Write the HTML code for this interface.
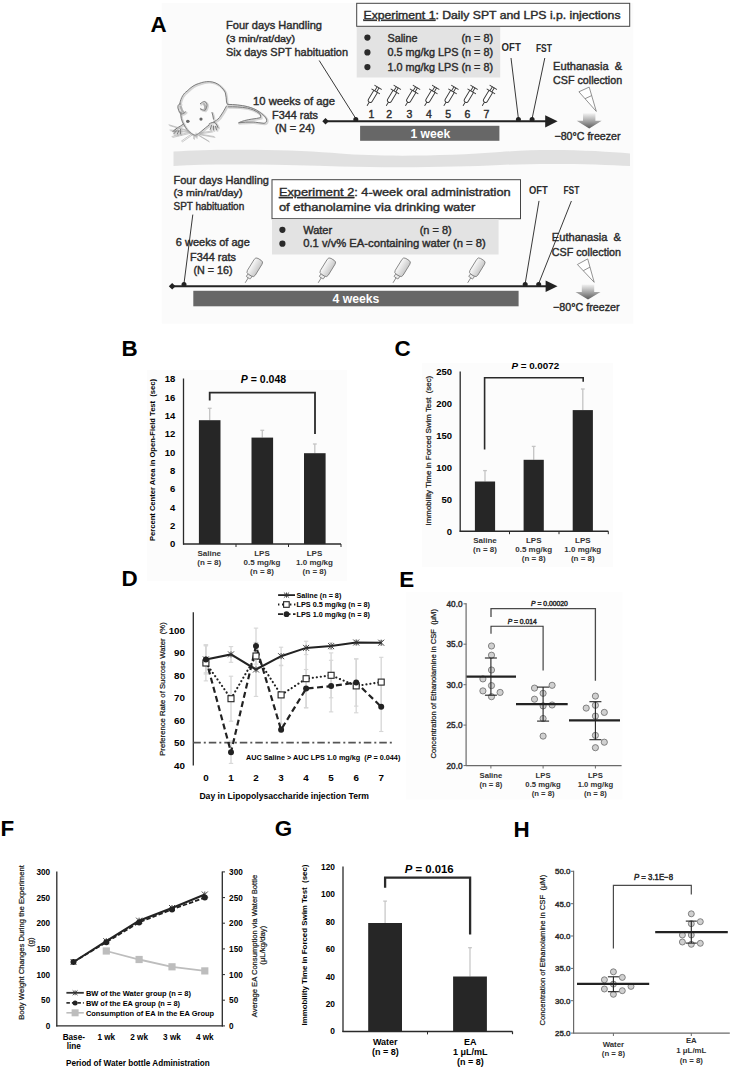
<!DOCTYPE html>
<html><head><meta charset="utf-8"><title>Figure</title>
<style>
html,body{margin:0;padding:0;background:#fff;}
svg{display:block;}
text{font-family:'Liberation Sans', Arial, sans-serif;}
</style></head>
<body>
<svg width="748" height="1088" viewBox="0 0 748 1088">
<defs>
<linearGradient id="fz" x1="0" y1="0" x2="0" y2="1">
<stop offset="0" stop-color="#f2f2f2"/><stop offset="0.55" stop-color="#a0a0a0"/><stop offset="1" stop-color="#5a5a5a"/>
</linearGradient>
<linearGradient id="bt" x1="0" y1="0" x2="0" y2="1">
<stop offset="0" stop-color="#fafafa"/><stop offset="1" stop-color="#c8c8c8"/>
</linearGradient>
</defs>
<rect width="748" height="1088" fill="#fff"/>
<g id="panelA">
<rect x="161.8" y="3.0" width="471.5" height="320.7" fill="#fbfbfb"/>
<text x="150.6" y="31.8" font-size="22.4" font-weight="bold">A</text>
<path d="M173.5 151.5 C 220 148, 300 150, 340 153.5 S 450 156, 500 152 S 600 151, 630 153.5 L 630 166 C 600 164, 540 163, 500 165 S 400 168, 340 166.5 S 220 163, 173.5 166 Z" fill="#e1e1e1"/>
<text x="226.0" y="28.7" font-size="11" fill="#2b2b2b" textLength="96" lengthAdjust="spacingAndGlyphs" style="stroke:#2b2b2b;stroke-width:0.4">Four days Handling</text>
<text x="226.0" y="41.8" font-size="9.5" fill="#2b2b2b" textLength="69" lengthAdjust="spacingAndGlyphs" style="stroke:#2b2b2b;stroke-width:0.4">(3 min/rat/day)</text>
<text x="226.0" y="55.5" font-size="11" fill="#2b2b2b" textLength="122" lengthAdjust="spacingAndGlyphs" style="stroke:#2b2b2b;stroke-width:0.4">Six days SPT habituation</text>
<rect x="356.7" y="3.3" width="273.0" height="23.0" fill="#fff" stroke="#444" stroke-width="1"/>
<text x="363.5" y="18.8" font-size="11.2" fill="#2b2b2b" textLength="257" lengthAdjust="spacingAndGlyphs" style="stroke:#2b2b2b;stroke-width:0.4"><tspan text-decoration="underline">Experiment 1</tspan>: Daily SPT and LPS i.p. injections</text>
<rect x="356.7" y="27.0" width="143.5" height="50.5" fill="#e3e3e3"/>
<circle cx="367.4" cy="37.6" r="3.1" fill="#2a2a2a"/>
<circle cx="367.4" cy="52.4" r="3.1" fill="#2a2a2a"/>
<circle cx="367.4" cy="67.1" r="3.1" fill="#2a2a2a"/>
<text x="387.5" y="41.7" font-size="10.8" fill="#2b2b2b" textLength="30" lengthAdjust="spacingAndGlyphs" style="stroke:#2b2b2b;stroke-width:0.4">Saline</text>
<text x="493.0" y="41.7" font-size="10.8" text-anchor="end" fill="#2b2b2b" style="stroke:#2b2b2b;stroke-width:0.4">(n = 8)</text>
<text x="387.5" y="56.4" font-size="10.8" fill="#2b2b2b" textLength="105.5" lengthAdjust="spacingAndGlyphs" style="stroke:#2b2b2b;stroke-width:0.4">0.5 mg/kg LPS (n = 8)</text>
<text x="387.5" y="71.1" font-size="10.8" fill="#2b2b2b" textLength="105.5" lengthAdjust="spacingAndGlyphs" style="stroke:#2b2b2b;stroke-width:0.4">1.0 mg/kg LPS (n = 8)</text>
<text x="501.6" y="50.8" font-size="10.4" font-weight="bold" fill="#2b2b2b" textLength="19.2" lengthAdjust="spacingAndGlyphs">OFT</text>
<text x="535.9" y="51.8" font-size="10.4" font-weight="bold" fill="#2b2b2b" textLength="16" lengthAdjust="spacingAndGlyphs">FST</text>
<text x="553.1" y="69.7" font-size="10.8" fill="#2b2b2b" textLength="69" lengthAdjust="spacingAndGlyphs" style="stroke:#2b2b2b;stroke-width:0.4">Euthanasia &#160;&amp;</text>
<text x="553.1" y="84.3" font-size="10.8" fill="#2b2b2b" textLength="69" lengthAdjust="spacingAndGlyphs" style="stroke:#2b2b2b;stroke-width:0.4">CSF collection</text>
<text x="294.0" y="104.5" font-size="10.8" text-anchor="middle" fill="#2b2b2b" textLength="82" lengthAdjust="spacingAndGlyphs" style="stroke:#2b2b2b;stroke-width:0.4">10 weeks of age</text>
<text x="295.0" y="118.5" font-size="10.8" text-anchor="middle" fill="#2b2b2b" textLength="46" lengthAdjust="spacingAndGlyphs" style="stroke:#2b2b2b;stroke-width:0.4">F344 rats</text>
<text x="295.0" y="132.0" font-size="10.8" text-anchor="middle" fill="#2b2b2b" textLength="40" lengthAdjust="spacingAndGlyphs" style="stroke:#2b2b2b;stroke-width:0.4">(N = 24)</text>
<line x1="326.0" y1="121.3" x2="548.0" y2="121.3" stroke="#222" stroke-width="2"/>
<path d="M322.3 121.3 L325.5 118 L328.8 121.3 L325.5 124.6 Z" fill="#222"/>
<path d="M545.2 115.2 L557.6 121.3 L545.2 127.4 Z" fill="#222"/>
<line x1="319.2" y1="60.5" x2="355.8" y2="118.5" stroke="#222" stroke-width="0.9"/>
<circle cx="355.8" cy="119.6" r="2.5" fill="#222"/>
<line x1="511.0" y1="58.0" x2="518.4" y2="118.5" stroke="#222" stroke-width="0.9"/>
<circle cx="518.4" cy="119.6" r="2.5" fill="#222"/>
<line x1="544.8" y1="58.0" x2="532.1" y2="118.5" stroke="#222" stroke-width="0.9"/>
<circle cx="532.1" cy="119.6" r="2.5" fill="#222"/>
<g transform="translate(367.2 105.5) rotate(-59)" stroke="#383838" fill="none" stroke-width="0.9" stroke-linecap="round"><line x1="0" y1="0" x2="4.2" y2="0"/><path d="M16.5 -2.1 L6 -2.1 Q4 -2.1 4 0 Q4 2.1 6 2.1 L16.5 2.1" fill="#fff"/><line x1="16.5" y1="-4.5" x2="16.5" y2="4.5"/><line x1="16.5" y1="-1.1" x2="21" y2="-1.1"/><line x1="16.5" y1="1.1" x2="21" y2="1.1"/><line x1="21.2" y1="-3.9" x2="21.2" y2="3.9"/></g>
<g transform="translate(386.4 105.5) rotate(-59)" stroke="#383838" fill="none" stroke-width="0.9" stroke-linecap="round"><line x1="0" y1="0" x2="4.2" y2="0"/><path d="M16.5 -2.1 L6 -2.1 Q4 -2.1 4 0 Q4 2.1 6 2.1 L16.5 2.1" fill="#fff"/><line x1="16.5" y1="-4.5" x2="16.5" y2="4.5"/><line x1="16.5" y1="-1.1" x2="21" y2="-1.1"/><line x1="16.5" y1="1.1" x2="21" y2="1.1"/><line x1="21.2" y1="-3.9" x2="21.2" y2="3.9"/></g>
<g transform="translate(405.6 105.5) rotate(-59)" stroke="#383838" fill="none" stroke-width="0.9" stroke-linecap="round"><line x1="0" y1="0" x2="4.2" y2="0"/><path d="M16.5 -2.1 L6 -2.1 Q4 -2.1 4 0 Q4 2.1 6 2.1 L16.5 2.1" fill="#fff"/><line x1="16.5" y1="-4.5" x2="16.5" y2="4.5"/><line x1="16.5" y1="-1.1" x2="21" y2="-1.1"/><line x1="16.5" y1="1.1" x2="21" y2="1.1"/><line x1="21.2" y1="-3.9" x2="21.2" y2="3.9"/></g>
<g transform="translate(424.8 105.5) rotate(-59)" stroke="#383838" fill="none" stroke-width="0.9" stroke-linecap="round"><line x1="0" y1="0" x2="4.2" y2="0"/><path d="M16.5 -2.1 L6 -2.1 Q4 -2.1 4 0 Q4 2.1 6 2.1 L16.5 2.1" fill="#fff"/><line x1="16.5" y1="-4.5" x2="16.5" y2="4.5"/><line x1="16.5" y1="-1.1" x2="21" y2="-1.1"/><line x1="16.5" y1="1.1" x2="21" y2="1.1"/><line x1="21.2" y1="-3.9" x2="21.2" y2="3.9"/></g>
<g transform="translate(444.0 105.5) rotate(-59)" stroke="#383838" fill="none" stroke-width="0.9" stroke-linecap="round"><line x1="0" y1="0" x2="4.2" y2="0"/><path d="M16.5 -2.1 L6 -2.1 Q4 -2.1 4 0 Q4 2.1 6 2.1 L16.5 2.1" fill="#fff"/><line x1="16.5" y1="-4.5" x2="16.5" y2="4.5"/><line x1="16.5" y1="-1.1" x2="21" y2="-1.1"/><line x1="16.5" y1="1.1" x2="21" y2="1.1"/><line x1="21.2" y1="-3.9" x2="21.2" y2="3.9"/></g>
<g transform="translate(463.2 105.5) rotate(-59)" stroke="#383838" fill="none" stroke-width="0.9" stroke-linecap="round"><line x1="0" y1="0" x2="4.2" y2="0"/><path d="M16.5 -2.1 L6 -2.1 Q4 -2.1 4 0 Q4 2.1 6 2.1 L16.5 2.1" fill="#fff"/><line x1="16.5" y1="-4.5" x2="16.5" y2="4.5"/><line x1="16.5" y1="-1.1" x2="21" y2="-1.1"/><line x1="16.5" y1="1.1" x2="21" y2="1.1"/><line x1="21.2" y1="-3.9" x2="21.2" y2="3.9"/></g>
<g transform="translate(482.4 105.5) rotate(-59)" stroke="#383838" fill="none" stroke-width="0.9" stroke-linecap="round"><line x1="0" y1="0" x2="4.2" y2="0"/><path d="M16.5 -2.1 L6 -2.1 Q4 -2.1 4 0 Q4 2.1 6 2.1 L16.5 2.1" fill="#fff"/><line x1="16.5" y1="-4.5" x2="16.5" y2="4.5"/><line x1="16.5" y1="-1.1" x2="21" y2="-1.1"/><line x1="16.5" y1="1.1" x2="21" y2="1.1"/><line x1="21.2" y1="-3.9" x2="21.2" y2="3.9"/></g>
<text x="371.4" y="117.5" font-size="10.5" text-anchor="middle" fill="#2b2b2b" style="stroke:#2b2b2b;stroke-width:0.4">1</text>
<text x="389.1" y="117.5" font-size="10.5" text-anchor="middle" fill="#2b2b2b" style="stroke:#2b2b2b;stroke-width:0.4">2</text>
<text x="409.5" y="117.5" font-size="10.5" text-anchor="middle" fill="#2b2b2b" style="stroke:#2b2b2b;stroke-width:0.4">3</text>
<text x="428.8" y="117.5" font-size="10.5" text-anchor="middle" fill="#2b2b2b" style="stroke:#2b2b2b;stroke-width:0.4">4</text>
<text x="448.2" y="117.5" font-size="10.5" text-anchor="middle" fill="#2b2b2b" style="stroke:#2b2b2b;stroke-width:0.4">5</text>
<text x="467.3" y="117.5" font-size="10.5" text-anchor="middle" fill="#2b2b2b" style="stroke:#2b2b2b;stroke-width:0.4">6</text>
<text x="486.3" y="117.5" font-size="10.5" text-anchor="middle" fill="#2b2b2b" style="stroke:#2b2b2b;stroke-width:0.4">7</text>
<rect x="360.1" y="125.8" width="139.3" height="15.0" fill="#676767"/>
<text x="430.3" y="137.9" font-size="12" text-anchor="middle" font-weight="bold" fill="#fff" textLength="39.8" lengthAdjust="spacingAndGlyphs">1 week</text>
<path d="M578.9 91.8 L589.2 87.1 L596.3 111.4 Z" fill="#fff" stroke="#777" stroke-width="0.8"/>
<line x1="585.0" y1="98.7" x2="591.7" y2="95.6" stroke="#777" stroke-width="0.8"/>
<path d="M583.0 113.3 L595.4 113.3 L595.4 120.8 L601.7 120.8 L589.2 128.6 L576.7 120.8 L583.0 120.8 Z" fill="url(#fz)"/>
<text x="587.5" y="140.0" font-size="10.8" text-anchor="middle" fill="#2b2b2b" textLength="66" lengthAdjust="spacingAndGlyphs" style="stroke:#2b2b2b;stroke-width:0.4">−80°C freezer</text>
<g fill="none" stroke="#d4d4d4" stroke-width="2.2" stroke-linecap="round" stroke-linejoin="round" transform="translate(0.9 0.9)"><path d="M179.7 104 C 181 97, 184 93, 187 91.2 C 191 87, 195 84.5, 198.8 83.5 C 203 82, 206 81.5, 209.1 81.6 C 214 81.8, 217 83.5, 219.4 85.3 C 222.5 88, 224.5 90.5, 225.3 92.6 C 226.2 96, 226.3 99, 226.5 102 L 227.5 104.4 C 234 104.5, 241 105, 247.4 106.6 C 252 107.8, 256 109.5, 259.1 111.8 C 262.5 114, 265.5 116.5, 266.5 119.1 C 267 121.5, 266 123, 264 123.3 C 260 123, 256 122.2, 253.2 122 C 248 121.8, 243 122.4, 238.5 122.8 C 242 121, 247 119.8, 251.8 119.1 C 255 118.6, 258 118.4, 260.6 117.6 C 261 115.5, 260 114.2, 259.1 113.2 C 255.5 110.5, 251.5 109, 247.4 108.1 C 241 107, 234 106.6, 228.2 106.8"/><path d="M226.5 106 C 224.5 110, 222 114, 219.4 117.6 C 217.5 119.8, 215.5 121, 213.5 122"/><path d="M212 112.5 C 212.8 115, 213.3 117, 213.5 119.1"/><path d="M181 112 C 180.2 116, 181.6 121, 184.1 125 C 186 128.5, 188 131, 190 132.4 C 192 134, 193.5 135, 195.1 135.3 C 197.5 134.5, 199.5 133, 201.8 130.9 C 204.5 128.5, 207 126.5, 209.1 125"/><path d="M180.5 104 C 178.5 103.5, 177.2 106, 178.2 108.8 C 178.8 111.3, 180 113.2, 181.5 114 C 183.2 113.8, 184.5 113, 185.6 111.8"/><path d="M180 106 C 180.5 108.5, 181.5 110.5, 182.8 111.5" stroke="#b0b0b0"/><path d="M200.3 103.7 C 201.8 102.4, 203.3 101.5, 204.7 101.5 C 206.3 102.2, 207.2 104, 206.9 105.9 C 206.6 108, 205.8 109.6, 204.7 110.3 C 203 110.2, 201.4 109.6, 200.3 108.8"/><path d="M203.5 103.5 C 204.6 105, 204.8 107, 204.3 108.8" stroke="#b0b0b0"/><path d="M183.5 124 C 181.5 125.5, 179 127, 177 128 C 175.5 129, 174.5 130.5, 174 131.5 M 176.5 128.5 L 172.8 131.3 M 177.2 130 L 173.8 133.8 M 179 130.3 L 177.2 134.2 M 180.5 129.5 L 180.4 133.8"/><path d="M209 124 C 211 122.5, 213.5 122, 215 122.5 C 216.5 124, 217.5 126, 218 127.5 M 211.5 125.5 L 210.2 129.4 M 213.5 126 L 213.4 130 M 215.5 126.2 L 216.5 129.8"/><path d="M188 130.5 L 169 124.8 M 188.5 131.5 L 170 130 M 189 132.5 L 172 136.5 M 191.5 134 L 181.5 141 M 199 133 L 212 131 M 199.5 134 L 214 136.5 M 198.5 135 L 208.5 141" stroke="#a8a8a8" stroke-width="0.6"/><path d="M196 133 L 196.2 137.5 M 194 135.5 L 193.5 138.5" stroke="#a8a8a8" stroke-width="0.6"/></g>
<g fill="none" stroke="#777" stroke-width="0.95" stroke-linecap="round" stroke-linejoin="round"><path d="M179.7 104 C 181 97, 184 93, 187 91.2 C 191 87, 195 84.5, 198.8 83.5 C 203 82, 206 81.5, 209.1 81.6 C 214 81.8, 217 83.5, 219.4 85.3 C 222.5 88, 224.5 90.5, 225.3 92.6 C 226.2 96, 226.3 99, 226.5 102 L 227.5 104.4 C 234 104.5, 241 105, 247.4 106.6 C 252 107.8, 256 109.5, 259.1 111.8 C 262.5 114, 265.5 116.5, 266.5 119.1 C 267 121.5, 266 123, 264 123.3 C 260 123, 256 122.2, 253.2 122 C 248 121.8, 243 122.4, 238.5 122.8 C 242 121, 247 119.8, 251.8 119.1 C 255 118.6, 258 118.4, 260.6 117.6 C 261 115.5, 260 114.2, 259.1 113.2 C 255.5 110.5, 251.5 109, 247.4 108.1 C 241 107, 234 106.6, 228.2 106.8"/><path d="M226.5 106 C 224.5 110, 222 114, 219.4 117.6 C 217.5 119.8, 215.5 121, 213.5 122"/><path d="M212 112.5 C 212.8 115, 213.3 117, 213.5 119.1"/><path d="M181 112 C 180.2 116, 181.6 121, 184.1 125 C 186 128.5, 188 131, 190 132.4 C 192 134, 193.5 135, 195.1 135.3 C 197.5 134.5, 199.5 133, 201.8 130.9 C 204.5 128.5, 207 126.5, 209.1 125"/><path d="M180.5 104 C 178.5 103.5, 177.2 106, 178.2 108.8 C 178.8 111.3, 180 113.2, 181.5 114 C 183.2 113.8, 184.5 113, 185.6 111.8"/><path d="M180 106 C 180.5 108.5, 181.5 110.5, 182.8 111.5" stroke="#b0b0b0"/><path d="M200.3 103.7 C 201.8 102.4, 203.3 101.5, 204.7 101.5 C 206.3 102.2, 207.2 104, 206.9 105.9 C 206.6 108, 205.8 109.6, 204.7 110.3 C 203 110.2, 201.4 109.6, 200.3 108.8"/><path d="M203.5 103.5 C 204.6 105, 204.8 107, 204.3 108.8" stroke="#b0b0b0"/><path d="M183.5 124 C 181.5 125.5, 179 127, 177 128 C 175.5 129, 174.5 130.5, 174 131.5 M 176.5 128.5 L 172.8 131.3 M 177.2 130 L 173.8 133.8 M 179 130.3 L 177.2 134.2 M 180.5 129.5 L 180.4 133.8"/><path d="M209 124 C 211 122.5, 213.5 122, 215 122.5 C 216.5 124, 217.5 126, 218 127.5 M 211.5 125.5 L 210.2 129.4 M 213.5 126 L 213.4 130 M 215.5 126.2 L 216.5 129.8"/><path d="M188 130.5 L 169 124.8 M 188.5 131.5 L 170 130 M 189 132.5 L 172 136.5 M 191.5 134 L 181.5 141 M 199 133 L 212 131 M 199.5 134 L 214 136.5 M 198.5 135 L 208.5 141" stroke="#a8a8a8" stroke-width="0.6"/><path d="M196 133 L 196.2 137.5 M 194 135.5 L 193.5 138.5" stroke="#a8a8a8" stroke-width="0.6"/></g>
<ellipse cx="187.8" cy="121.3" rx="1.8" ry="1.6" fill="#666"/>
<ellipse cx="201" cy="119.1" rx="1.6" ry="1.7" fill="#666"/>
<text x="173.5" y="183.7" font-size="11" fill="#2b2b2b" textLength="95.5" lengthAdjust="spacingAndGlyphs" style="stroke:#2b2b2b;stroke-width:0.4">Four days Handling</text>
<text x="173.5" y="196.4" font-size="9.5" fill="#2b2b2b" textLength="69" lengthAdjust="spacingAndGlyphs" style="stroke:#2b2b2b;stroke-width:0.4">(3 min/rat/day)</text>
<text x="173.5" y="209.9" font-size="10.3" fill="#2b2b2b" textLength="70.7" lengthAdjust="spacingAndGlyphs" style="stroke:#2b2b2b;stroke-width:0.4">SPT habituation</text>
<text x="212.8" y="245.5" font-size="10.8" text-anchor="middle" fill="#2b2b2b" textLength="74" lengthAdjust="spacingAndGlyphs" style="stroke:#2b2b2b;stroke-width:0.4">6 weeks of age</text>
<text x="213.0" y="260.5" font-size="10.8" text-anchor="middle" fill="#2b2b2b" textLength="46" lengthAdjust="spacingAndGlyphs" style="stroke:#2b2b2b;stroke-width:0.4">F344 rats</text>
<text x="213.0" y="273.5" font-size="10.8" text-anchor="middle" fill="#2b2b2b" textLength="39" lengthAdjust="spacingAndGlyphs" style="stroke:#2b2b2b;stroke-width:0.4">(N = 16)</text>
<rect x="272.0" y="179.7" width="248.5" height="39.0" fill="#fff" stroke="#444" stroke-width="1"/>
<text x="278.9" y="196.0" font-size="11.5" fill="#2b2b2b" textLength="231.8" lengthAdjust="spacingAndGlyphs" style="stroke:#2b2b2b;stroke-width:0.4"><tspan text-decoration="underline">Experiment 2</tspan>: 4-week oral administration</text>
<text x="278.9" y="210.7" font-size="11.5" fill="#2b2b2b" textLength="196.4" lengthAdjust="spacingAndGlyphs" style="stroke:#2b2b2b;stroke-width:0.4">of ethanolamine via drinking water</text>
<rect x="272.0" y="219.2" width="226.6" height="35.3" fill="#e3e3e3"/>
<circle cx="282.4" cy="229.8" r="3.1" fill="#2a2a2a"/>
<circle cx="282.4" cy="243.7" r="3.1" fill="#2a2a2a"/>
<text x="303.2" y="234.3" font-size="10.8" fill="#2b2b2b" textLength="29" lengthAdjust="spacingAndGlyphs" style="stroke:#2b2b2b;stroke-width:0.4">Water</text>
<text x="451.7" y="234.3" font-size="10.8" text-anchor="end" fill="#2b2b2b" textLength="32" lengthAdjust="spacingAndGlyphs" style="stroke:#2b2b2b;stroke-width:0.4">(n = 8)</text>
<text x="303.2" y="247.2" font-size="10.8" fill="#2b2b2b" textLength="182.5" lengthAdjust="spacingAndGlyphs" style="stroke:#2b2b2b;stroke-width:0.4">0.1 v/v% EA-containing water (n = 8)</text>
<text x="528.9" y="193.7" font-size="10.4" font-weight="bold" fill="#2b2b2b" textLength="18.8" lengthAdjust="spacingAndGlyphs">OFT</text>
<text x="563.4" y="194.2" font-size="10.4" font-weight="bold" fill="#2b2b2b" textLength="16" lengthAdjust="spacingAndGlyphs">FST</text>
<text x="551.8" y="240.7" font-size="10.8" fill="#2b2b2b" textLength="69.2" lengthAdjust="spacingAndGlyphs" style="stroke:#2b2b2b;stroke-width:0.4">Euthanasia &#160;&amp;</text>
<text x="551.8" y="255.5" font-size="10.8" fill="#2b2b2b" textLength="69.2" lengthAdjust="spacingAndGlyphs" style="stroke:#2b2b2b;stroke-width:0.4">CSF collection</text>
<line x1="170.0" y1="286.3" x2="548.0" y2="286.3" stroke="#222" stroke-width="2"/>
<path d="M168.8 286.3 L172.2 283 L175.5 286.3 L172.2 289.6 Z" fill="#222"/>
<path d="M545.6 280.6 L557.5 286.3 L545.6 292 Z" fill="#222"/>
<line x1="192.8" y1="214.6" x2="184.0" y2="283.5" stroke="#222" stroke-width="0.9"/>
<circle cx="184.0" cy="284.6" r="2.5" fill="#222"/>
<line x1="539.0" y1="200.9" x2="525.2" y2="283.5" stroke="#222" stroke-width="0.9"/>
<circle cx="525.2" cy="284.6" r="2.5" fill="#222"/>
<line x1="571.4" y1="201.0" x2="538.7" y2="283.5" stroke="#222" stroke-width="0.9"/>
<circle cx="538.7" cy="284.6" r="2.5" fill="#222"/>
<rect x="193.3" y="290.8" width="325.3" height="15.5" fill="#676767"/>
<text x="356.0" y="303.3" font-size="12" text-anchor="middle" font-weight="bold" fill="#fff" textLength="46.8" lengthAdjust="spacingAndGlyphs">4 weeks</text>
<g transform="translate(245.2 282.8) rotate(-58.4)" stroke="#7a7a7a" stroke-width="0.8"><line x1="0" y1="0" x2="6" y2="0"/><rect x="5.8" y="-2.4" width="3.4" height="4.8" rx="0.8" fill="#eaeaea"/><rect x="9" y="-4.6" width="18.5" height="9.2" rx="2.8" fill="url(#bt)"/></g>
<g transform="translate(318.2 282.8) rotate(-58.4)" stroke="#7a7a7a" stroke-width="0.8"><line x1="0" y1="0" x2="6" y2="0"/><rect x="5.8" y="-2.4" width="3.4" height="4.8" rx="0.8" fill="#eaeaea"/><rect x="9" y="-4.6" width="18.5" height="9.2" rx="2.8" fill="url(#bt)"/></g>
<g transform="translate(393.0 282.8) rotate(-58.4)" stroke="#7a7a7a" stroke-width="0.8"><line x1="0" y1="0" x2="6" y2="0"/><rect x="5.8" y="-2.4" width="3.4" height="4.8" rx="0.8" fill="#eaeaea"/><rect x="9" y="-4.6" width="18.5" height="9.2" rx="2.8" fill="url(#bt)"/></g>
<g transform="translate(467.7 282.8) rotate(-58.4)" stroke="#7a7a7a" stroke-width="0.8"><line x1="0" y1="0" x2="6" y2="0"/><rect x="5.8" y="-2.4" width="3.4" height="4.8" rx="0.8" fill="#eaeaea"/><rect x="9" y="-4.6" width="18.5" height="9.2" rx="2.8" fill="url(#bt)"/></g>
<path d="M577.4 264.5 L587.7 258.9 L594.2 282.3 Z" fill="#fff" stroke="#777" stroke-width="0.8"/>
<line x1="583.3" y1="270.7" x2="590.0" y2="267.1" stroke="#777" stroke-width="0.8"/>
<path d="M581.8 284.5 L594.2 284.5 L594.2 292.0 L600.5 292.0 L588.0 299.5 L575.5 292.0 L581.8 292.0 Z" fill="url(#fz)"/>
<text x="586.3" y="311.3" font-size="10.8" text-anchor="middle" fill="#2b2b2b" textLength="66.5" lengthAdjust="spacingAndGlyphs" style="stroke:#2b2b2b;stroke-width:0.4">−80°C freezer</text>
</g>
<g id="panelB">
<rect x="147.0" y="370.0" width="200.0" height="211.0" fill="#fcfcfc"/>
<text x="121.5" y="356.0" font-size="22.4" font-weight="bold">B</text>
<line x1="183.5" y1="378.5" x2="183.5" y2="544.6" stroke="#2a2a2a" stroke-width="1.3"/>
<text x="175.4" y="547.4" font-size="9.5" text-anchor="end" font-weight="bold">0</text>
<text x="175.4" y="529.1" font-size="9.5" text-anchor="end" font-weight="bold">2</text>
<text x="175.4" y="510.7" font-size="9.5" text-anchor="end" font-weight="bold">4</text>
<text x="175.4" y="492.4" font-size="9.5" text-anchor="end" font-weight="bold">6</text>
<text x="175.4" y="474.1" font-size="9.5" text-anchor="end" font-weight="bold">8</text>
<text x="175.4" y="455.7" font-size="9.5" text-anchor="end" font-weight="bold">10</text>
<text x="175.4" y="437.4" font-size="9.5" text-anchor="end" font-weight="bold">12</text>
<text x="175.4" y="419.0" font-size="9.5" text-anchor="end" font-weight="bold">14</text>
<text x="175.4" y="400.7" font-size="9.5" text-anchor="end" font-weight="bold">16</text>
<text x="175.4" y="382.4" font-size="9.5" text-anchor="end" font-weight="bold">18</text>
<line x1="183.0" y1="544.0" x2="341.0" y2="544.0" stroke="#2a2a2a" stroke-width="1.4"/>
<line x1="236.0" y1="544.0" x2="236.0" y2="547.0" stroke="#2a2a2a" stroke-width="1"/>
<line x1="288.5" y1="544.0" x2="288.5" y2="547.0" stroke="#2a2a2a" stroke-width="1"/>
<line x1="341.0" y1="544.0" x2="341.0" y2="547.0" stroke="#2a2a2a" stroke-width="1"/>
<line x1="209.7" y1="408.3" x2="209.7" y2="420.2" stroke="#c4c4c4" stroke-width="1.3"/>
<line x1="207.8" y1="408.3" x2="211.6" y2="408.3" stroke="#c4c4c4" stroke-width="1.3"/>
<rect x="198.9" y="420.2" width="21.6" height="123.8" fill="#262626"/>
<line x1="262.3" y1="430.3" x2="262.3" y2="437.6" stroke="#c4c4c4" stroke-width="1.3"/>
<line x1="260.4" y1="430.3" x2="264.2" y2="430.3" stroke="#c4c4c4" stroke-width="1.3"/>
<rect x="251.5" y="437.6" width="21.6" height="106.4" fill="#262626"/>
<line x1="314.8" y1="444.0" x2="314.8" y2="453.2" stroke="#c4c4c4" stroke-width="1.3"/>
<line x1="312.9" y1="444.0" x2="316.7" y2="444.0" stroke="#c4c4c4" stroke-width="1.3"/>
<rect x="304.0" y="453.2" width="21.6" height="90.8" fill="#262626"/>
<path d="M209.7 400.5 L209.7 392.6 L315 392.6 L315 434" fill="none" stroke="#2a2a2a" stroke-width="1.8"/>
<text x="263.5" y="383.0" font-size="10.5" text-anchor="middle" font-weight="bold"><tspan font-style="italic">P</tspan> = 0.048</text>
<text x="154.5" y="460.0" font-size="7.5" text-anchor="middle" font-weight="bold" textLength="162" lengthAdjust="spacingAndGlyphs" transform="rotate(-90 154.5 460.0)">Percent Center Area in Open-Field Test &#160;(sec)</text>
<text x="209.2" y="556.2" font-size="8" text-anchor="middle" font-weight="bold" fill="#333">Saline</text>
<text x="209.2" y="565.3" font-size="8" text-anchor="middle" font-weight="bold" fill="#333">(n = 8)</text>
<text x="262.0" y="556.2" font-size="8" text-anchor="middle" font-weight="bold" fill="#333">LPS</text>
<text x="262.0" y="565.3" font-size="8" text-anchor="middle" font-weight="bold" fill="#333">0.5 mg/kg</text>
<text x="262.0" y="574.4" font-size="8" text-anchor="middle" font-weight="bold" fill="#333">(n = 8)</text>
<text x="314.5" y="556.2" font-size="8" text-anchor="middle" font-weight="bold" fill="#333">LPS</text>
<text x="314.5" y="565.3" font-size="8" text-anchor="middle" font-weight="bold" fill="#333">1.0 mg/kg</text>
<text x="314.5" y="574.4" font-size="8" text-anchor="middle" font-weight="bold" fill="#333">(n = 8)</text>
</g>
<g id="panelC">
<rect x="422.0" y="363.0" width="191.0" height="204.0" fill="#fcfcfc"/>
<text x="394.6" y="356.0" font-size="22.4" font-weight="bold">C</text>
<line x1="460.2" y1="371.5" x2="460.2" y2="531.8" stroke="#2a2a2a" stroke-width="1.3"/>
<text x="452.0" y="534.6" font-size="9.5" text-anchor="end" font-weight="bold">0</text>
<text x="452.0" y="502.7" font-size="9.5" text-anchor="end" font-weight="bold">50</text>
<text x="452.0" y="470.9" font-size="9.5" text-anchor="end" font-weight="bold">100</text>
<text x="452.0" y="439.0" font-size="9.5" text-anchor="end" font-weight="bold">150</text>
<text x="452.0" y="407.1" font-size="9.5" text-anchor="end" font-weight="bold">200</text>
<text x="452.0" y="375.2" font-size="9.5" text-anchor="end" font-weight="bold">250</text>
<line x1="459.6" y1="531.2" x2="608.3" y2="531.2" stroke="#2a2a2a" stroke-width="1.4"/>
<line x1="509.5" y1="531.2" x2="509.5" y2="534.2" stroke="#2a2a2a" stroke-width="1"/>
<line x1="559.0" y1="531.2" x2="559.0" y2="534.2" stroke="#2a2a2a" stroke-width="1"/>
<line x1="608.3" y1="531.2" x2="608.3" y2="534.2" stroke="#2a2a2a" stroke-width="1"/>
<line x1="485.0" y1="470.6" x2="485.0" y2="481.5" stroke="#c4c4c4" stroke-width="1.3"/>
<line x1="483.1" y1="470.6" x2="486.9" y2="470.6" stroke="#c4c4c4" stroke-width="1.3"/>
<rect x="474.9" y="481.5" width="20.2" height="49.7" fill="#262626"/>
<line x1="533.7" y1="446.4" x2="533.7" y2="459.8" stroke="#c4c4c4" stroke-width="1.3"/>
<line x1="531.8" y1="446.4" x2="535.6" y2="446.4" stroke="#c4c4c4" stroke-width="1.3"/>
<rect x="523.6" y="459.8" width="20.2" height="71.4" fill="#262626"/>
<line x1="582.8" y1="389.0" x2="582.8" y2="410.1" stroke="#c4c4c4" stroke-width="1.3"/>
<line x1="580.9" y1="389.0" x2="584.7" y2="389.0" stroke="#c4c4c4" stroke-width="1.3"/>
<rect x="572.7" y="410.1" width="20.2" height="121.1" fill="#262626"/>
<path d="M484.6 449.6 L484.6 377.8 L583.2 377.8 L583.2 381.8" fill="none" stroke="#2a2a2a" stroke-width="1.6"/>
<text x="535.3" y="369.2" font-size="9.8" text-anchor="middle" font-weight="bold"><tspan font-style="italic">P</tspan> = 0.0072</text>
<text x="430.6" y="450.6" font-size="7.9" text-anchor="middle" textLength="149.7" lengthAdjust="spacingAndGlyphs" transform="rotate(-90 430.6 450.6)" style="stroke:#303030;stroke-width:0.22">Immobility Time in Forced Swim Test &#160;(sec)</text>
<text x="485.0" y="542.5" font-size="8" text-anchor="middle" font-weight="bold" fill="#333">Saline</text>
<text x="485.0" y="551.6" font-size="8" text-anchor="middle" font-weight="bold" fill="#333">(n = 8)</text>
<text x="533.7" y="542.5" font-size="8" text-anchor="middle" font-weight="bold" fill="#333">LPS</text>
<text x="533.7" y="551.6" font-size="8" text-anchor="middle" font-weight="bold" fill="#333">0.5 mg/kg</text>
<text x="533.7" y="560.7" font-size="8" text-anchor="middle" font-weight="bold" fill="#333">(n = 8)</text>
<text x="582.8" y="542.5" font-size="8" text-anchor="middle" font-weight="bold" fill="#333">LPS</text>
<text x="582.8" y="551.6" font-size="8" text-anchor="middle" font-weight="bold" fill="#333">1.0 mg/kg</text>
<text x="582.8" y="560.7" font-size="8" text-anchor="middle" font-weight="bold" fill="#333">(n = 8)</text>
</g>
<g id="panelD">
<text x="121.5" y="586.0" font-size="22.4" font-weight="bold">D</text>
<line x1="193.3" y1="612.3" x2="193.3" y2="765.5" stroke="#2a2a2a" stroke-width="1.3"/>
<text x="185.0" y="768.7" font-size="9.8" text-anchor="end" font-weight="bold">40</text>
<text x="185.0" y="746.3" font-size="9.8" text-anchor="end" font-weight="bold">50</text>
<text x="185.0" y="723.8" font-size="9.8" text-anchor="end" font-weight="bold">60</text>
<text x="185.0" y="701.3" font-size="9.8" text-anchor="end" font-weight="bold">70</text>
<text x="185.0" y="678.8" font-size="9.8" text-anchor="end" font-weight="bold">80</text>
<text x="185.0" y="656.4" font-size="9.8" text-anchor="end" font-weight="bold">90</text>
<text x="185.0" y="633.9" font-size="9.8" text-anchor="end" font-weight="bold">100</text>
<text x="205.9" y="781.0" font-size="9.8" text-anchor="middle" font-weight="bold">0</text>
<text x="231.0" y="781.0" font-size="9.8" text-anchor="middle" font-weight="bold">1</text>
<text x="256.0" y="781.0" font-size="9.8" text-anchor="middle" font-weight="bold">2</text>
<text x="281.1" y="781.0" font-size="9.8" text-anchor="middle" font-weight="bold">3</text>
<text x="306.1" y="781.0" font-size="9.8" text-anchor="middle" font-weight="bold">4</text>
<text x="331.1" y="781.0" font-size="9.8" text-anchor="middle" font-weight="bold">5</text>
<text x="356.2" y="781.0" font-size="9.8" text-anchor="middle" font-weight="bold">6</text>
<text x="381.2" y="781.0" font-size="9.8" text-anchor="middle" font-weight="bold">7</text>
<text x="284.2" y="798.5" font-size="9" text-anchor="middle" font-weight="bold" textLength="169.6" lengthAdjust="spacingAndGlyphs">Day in Lipopolysaccharide injection Term</text>
<text x="165.2" y="689.0" font-size="7.7" text-anchor="middle" textLength="133.5" lengthAdjust="spacingAndGlyphs" transform="rotate(-90 165.2 689.0)" style="stroke:#303030;stroke-width:0.22">Preference Rate of Sucrose Water &#160;(%)</text>
<line x1="193.3" y1="742.7" x2="392.0" y2="742.7" stroke="#555" stroke-width="1.7" stroke-dasharray="7.5 3 2 3"/>
<text x="246.0" y="759.6" font-size="7.6" font-weight="bold" textLength="154.3" lengthAdjust="spacingAndGlyphs">AUC Saline &gt; AUC LPS 1.0 mg/kg &#160;(<tspan font-style="italic">P</tspan> = 0.044)</text>
<line x1="205.9" y1="644.8" x2="205.9" y2="674.0" stroke="#d6d6d6" stroke-width="1.3"/>
<line x1="203.7" y1="644.8" x2="208.1" y2="644.8" stroke="#d6d6d6" stroke-width="1.1"/>
<line x1="203.7" y1="674.0" x2="208.1" y2="674.0" stroke="#d6d6d6" stroke-width="1.1"/>
<line x1="231.0" y1="646.6" x2="231.0" y2="662.3" stroke="#d6d6d6" stroke-width="1.3"/>
<line x1="228.8" y1="646.6" x2="233.2" y2="646.6" stroke="#d6d6d6" stroke-width="1.1"/>
<line x1="228.8" y1="662.3" x2="233.2" y2="662.3" stroke="#d6d6d6" stroke-width="1.1"/>
<line x1="256.0" y1="642.5" x2="256.0" y2="696.4" stroke="#d6d6d6" stroke-width="1.3"/>
<line x1="253.8" y1="642.5" x2="258.2" y2="642.5" stroke="#d6d6d6" stroke-width="1.1"/>
<line x1="253.8" y1="696.4" x2="258.2" y2="696.4" stroke="#d6d6d6" stroke-width="1.1"/>
<line x1="281.1" y1="647.2" x2="281.1" y2="665.2" stroke="#d6d6d6" stroke-width="1.3"/>
<line x1="278.9" y1="647.2" x2="283.2" y2="647.2" stroke="#d6d6d6" stroke-width="1.1"/>
<line x1="278.9" y1="665.2" x2="283.2" y2="665.2" stroke="#d6d6d6" stroke-width="1.1"/>
<line x1="306.1" y1="641.2" x2="306.1" y2="654.6" stroke="#d6d6d6" stroke-width="1.3"/>
<line x1="303.9" y1="641.2" x2="308.3" y2="641.2" stroke="#d6d6d6" stroke-width="1.1"/>
<line x1="303.9" y1="654.6" x2="308.3" y2="654.6" stroke="#d6d6d6" stroke-width="1.1"/>
<line x1="331.1" y1="642.7" x2="331.1" y2="649.5" stroke="#d6d6d6" stroke-width="1.3"/>
<line x1="328.9" y1="642.7" x2="333.3" y2="642.7" stroke="#d6d6d6" stroke-width="1.1"/>
<line x1="328.9" y1="649.5" x2="333.3" y2="649.5" stroke="#d6d6d6" stroke-width="1.1"/>
<line x1="356.2" y1="640.3" x2="356.2" y2="644.8" stroke="#d6d6d6" stroke-width="1.3"/>
<line x1="354.0" y1="640.3" x2="358.4" y2="640.3" stroke="#d6d6d6" stroke-width="1.1"/>
<line x1="354.0" y1="644.8" x2="358.4" y2="644.8" stroke="#d6d6d6" stroke-width="1.1"/>
<line x1="381.2" y1="640.5" x2="381.2" y2="645.0" stroke="#d6d6d6" stroke-width="1.3"/>
<line x1="379.1" y1="640.5" x2="383.4" y2="640.5" stroke="#d6d6d6" stroke-width="1.1"/>
<line x1="379.1" y1="645.0" x2="383.4" y2="645.0" stroke="#d6d6d6" stroke-width="1.1"/>
<line x1="205.9" y1="645.0" x2="205.9" y2="680.9" stroke="#d6d6d6" stroke-width="1.3"/>
<line x1="203.7" y1="645.0" x2="208.1" y2="645.0" stroke="#d6d6d6" stroke-width="1.1"/>
<line x1="203.7" y1="680.9" x2="208.1" y2="680.9" stroke="#d6d6d6" stroke-width="1.1"/>
<line x1="231.0" y1="676.2" x2="231.0" y2="721.2" stroke="#d6d6d6" stroke-width="1.3"/>
<line x1="228.8" y1="676.2" x2="233.2" y2="676.2" stroke="#d6d6d6" stroke-width="1.1"/>
<line x1="228.8" y1="721.2" x2="233.2" y2="721.2" stroke="#d6d6d6" stroke-width="1.1"/>
<line x1="256.0" y1="642.5" x2="256.0" y2="669.5" stroke="#d6d6d6" stroke-width="1.3"/>
<line x1="253.8" y1="642.5" x2="258.2" y2="642.5" stroke="#d6d6d6" stroke-width="1.1"/>
<line x1="253.8" y1="669.5" x2="258.2" y2="669.5" stroke="#d6d6d6" stroke-width="1.1"/>
<line x1="281.1" y1="665.7" x2="281.1" y2="724.1" stroke="#d6d6d6" stroke-width="1.3"/>
<line x1="278.9" y1="665.7" x2="283.2" y2="665.7" stroke="#d6d6d6" stroke-width="1.1"/>
<line x1="278.9" y1="724.1" x2="283.2" y2="724.1" stroke="#d6d6d6" stroke-width="1.1"/>
<line x1="306.1" y1="649.5" x2="306.1" y2="707.9" stroke="#d6d6d6" stroke-width="1.3"/>
<line x1="303.9" y1="649.5" x2="308.3" y2="649.5" stroke="#d6d6d6" stroke-width="1.1"/>
<line x1="303.9" y1="707.9" x2="308.3" y2="707.9" stroke="#d6d6d6" stroke-width="1.1"/>
<line x1="331.1" y1="652.9" x2="331.1" y2="697.8" stroke="#d6d6d6" stroke-width="1.3"/>
<line x1="328.9" y1="652.9" x2="333.3" y2="652.9" stroke="#d6d6d6" stroke-width="1.1"/>
<line x1="328.9" y1="697.8" x2="333.3" y2="697.8" stroke="#d6d6d6" stroke-width="1.1"/>
<line x1="356.2" y1="658.9" x2="356.2" y2="712.8" stroke="#d6d6d6" stroke-width="1.3"/>
<line x1="354.0" y1="658.9" x2="358.4" y2="658.9" stroke="#d6d6d6" stroke-width="1.1"/>
<line x1="354.0" y1="712.8" x2="358.4" y2="712.8" stroke="#d6d6d6" stroke-width="1.1"/>
<line x1="381.2" y1="657.3" x2="381.2" y2="706.8" stroke="#d6d6d6" stroke-width="1.3"/>
<line x1="379.1" y1="657.3" x2="383.4" y2="657.3" stroke="#d6d6d6" stroke-width="1.1"/>
<line x1="379.1" y1="706.8" x2="383.4" y2="706.8" stroke="#d6d6d6" stroke-width="1.1"/>
<line x1="205.9" y1="645.9" x2="205.9" y2="672.8" stroke="#d6d6d6" stroke-width="1.3"/>
<line x1="203.7" y1="645.9" x2="208.1" y2="645.9" stroke="#d6d6d6" stroke-width="1.1"/>
<line x1="203.7" y1="672.8" x2="208.1" y2="672.8" stroke="#d6d6d6" stroke-width="1.1"/>
<line x1="231.0" y1="740.9" x2="231.0" y2="763.4" stroke="#d6d6d6" stroke-width="1.3"/>
<line x1="228.8" y1="740.9" x2="233.2" y2="740.9" stroke="#d6d6d6" stroke-width="1.1"/>
<line x1="228.8" y1="763.4" x2="233.2" y2="763.4" stroke="#d6d6d6" stroke-width="1.1"/>
<line x1="256.0" y1="628.1" x2="256.0" y2="664.1" stroke="#d6d6d6" stroke-width="1.3"/>
<line x1="253.8" y1="628.1" x2="258.2" y2="628.1" stroke="#d6d6d6" stroke-width="1.1"/>
<line x1="253.8" y1="664.1" x2="258.2" y2="664.1" stroke="#d6d6d6" stroke-width="1.1"/>
<line x1="281.1" y1="727.5" x2="281.1" y2="731.9" stroke="#d6d6d6" stroke-width="1.3"/>
<line x1="278.9" y1="727.5" x2="283.2" y2="727.5" stroke="#d6d6d6" stroke-width="1.1"/>
<line x1="278.9" y1="731.9" x2="283.2" y2="731.9" stroke="#d6d6d6" stroke-width="1.1"/>
<line x1="306.1" y1="669.5" x2="306.1" y2="707.7" stroke="#d6d6d6" stroke-width="1.3"/>
<line x1="303.9" y1="669.5" x2="308.3" y2="669.5" stroke="#d6d6d6" stroke-width="1.1"/>
<line x1="303.9" y1="707.7" x2="308.3" y2="707.7" stroke="#d6d6d6" stroke-width="1.1"/>
<line x1="331.1" y1="660.3" x2="331.1" y2="711.9" stroke="#d6d6d6" stroke-width="1.3"/>
<line x1="328.9" y1="660.3" x2="333.3" y2="660.3" stroke="#d6d6d6" stroke-width="1.1"/>
<line x1="328.9" y1="711.9" x2="333.3" y2="711.9" stroke="#d6d6d6" stroke-width="1.1"/>
<line x1="356.2" y1="658.9" x2="356.2" y2="706.1" stroke="#d6d6d6" stroke-width="1.3"/>
<line x1="354.0" y1="658.9" x2="358.4" y2="658.9" stroke="#d6d6d6" stroke-width="1.1"/>
<line x1="354.0" y1="706.1" x2="358.4" y2="706.1" stroke="#d6d6d6" stroke-width="1.1"/>
<line x1="381.2" y1="682.1" x2="381.2" y2="731.5" stroke="#d6d6d6" stroke-width="1.3"/>
<line x1="379.1" y1="682.1" x2="383.4" y2="682.1" stroke="#d6d6d6" stroke-width="1.1"/>
<line x1="379.1" y1="731.5" x2="383.4" y2="731.5" stroke="#d6d6d6" stroke-width="1.1"/>
<polyline points="205.9,663.0 231.0,698.7 256.0,656.0 281.1,694.9 306.1,678.7 331.1,675.3 356.2,685.9 381.2,682.1" fill="none" stroke="#222" stroke-width="2.1" stroke-dasharray="0.1 3.9" stroke-linecap="round"/>
<polyline points="205.9,659.4 231.0,752.2 256.0,646.1 281.1,729.7 306.1,688.6 331.1,686.1 356.2,682.5 381.2,706.8" fill="none" stroke="#222" stroke-width="2.2" stroke-dasharray="6 3.5"/>
<polyline points="205.9,659.4 231.0,654.4 256.0,669.5 281.1,656.2 306.1,647.9 331.1,646.1 356.2,642.5 381.2,642.7" fill="none" stroke="#222" stroke-width="2"/>
<path d="M202.9 656.4 L208.9 662.4 M202.9 662.4 L208.9 656.4 M205.9 656.4 L205.9 662.4" stroke="#333" stroke-width="0.9"/>
<path d="M228.0 651.4 L234.0 657.4 M228.0 657.4 L234.0 651.4 M231.0 651.4 L231.0 657.4" stroke="#333" stroke-width="0.9"/>
<path d="M253.0 666.5 L259.0 672.5 M253.0 672.5 L259.0 666.5 M256.0 666.5 L256.0 672.5" stroke="#333" stroke-width="0.9"/>
<path d="M278.1 653.2 L284.1 659.2 M278.1 659.2 L284.1 653.2 M281.1 653.2 L281.1 659.2" stroke="#333" stroke-width="0.9"/>
<path d="M303.1 644.9 L309.1 650.9 M303.1 650.9 L309.1 644.9 M306.1 644.9 L306.1 650.9" stroke="#333" stroke-width="0.9"/>
<path d="M328.1 643.1 L334.1 649.1 M328.1 649.1 L334.1 643.1 M331.1 643.1 L331.1 649.1" stroke="#333" stroke-width="0.9"/>
<path d="M353.2 639.5 L359.2 645.5 M353.2 645.5 L359.2 639.5 M356.2 639.5 L356.2 645.5" stroke="#333" stroke-width="0.9"/>
<path d="M378.2 639.7 L384.2 645.7 M378.2 645.7 L384.2 639.7 M381.2 639.7 L381.2 645.7" stroke="#333" stroke-width="0.9"/>
<rect x="202.9" y="660.0" width="6.0" height="6.0" fill="#fff" stroke="#222" stroke-width="1.1"/>
<rect x="228.0" y="695.7" width="6.0" height="6.0" fill="#fff" stroke="#222" stroke-width="1.1"/>
<rect x="253.0" y="653.0" width="6.0" height="6.0" fill="#fff" stroke="#222" stroke-width="1.1"/>
<rect x="278.1" y="691.9" width="6.0" height="6.0" fill="#fff" stroke="#222" stroke-width="1.1"/>
<rect x="303.1" y="675.7" width="6.0" height="6.0" fill="#fff" stroke="#222" stroke-width="1.1"/>
<rect x="328.1" y="672.3" width="6.0" height="6.0" fill="#fff" stroke="#222" stroke-width="1.1"/>
<rect x="353.2" y="682.9" width="6.0" height="6.0" fill="#fff" stroke="#222" stroke-width="1.1"/>
<rect x="378.2" y="679.1" width="6.0" height="6.0" fill="#fff" stroke="#222" stroke-width="1.1"/>
<circle cx="205.9" cy="659.4" r="3" fill="#222"/>
<circle cx="231.0" cy="752.2" r="3" fill="#222"/>
<circle cx="256.0" cy="646.1" r="3" fill="#222"/>
<circle cx="281.1" cy="729.7" r="3" fill="#222"/>
<circle cx="306.1" cy="688.6" r="3" fill="#222"/>
<circle cx="331.1" cy="686.1" r="3" fill="#222"/>
<circle cx="356.2" cy="682.5" r="3" fill="#222"/>
<circle cx="381.2" cy="706.8" r="3" fill="#222"/>
<line x1="278.1" y1="595.1" x2="295.0" y2="595.1" stroke="#222" stroke-width="1.8"/>
<path d="M283.9 592.5 L289.1 597.7 M283.9 597.7 L289.1 592.5 M286.5 592.5 L286.5 597.7" stroke="#333" stroke-width="0.9"/>
<text x="296.5" y="597.8" font-size="7.3" font-weight="bold" textLength="44.8" lengthAdjust="spacingAndGlyphs">Saline (n = 8)</text>
<line x1="278.0" y1="604.5" x2="295.5" y2="604.5" stroke="#222" stroke-width="1.8" stroke-dasharray="1.4 2.6"/>
<rect x="283.6" y="601.7" width="5.6" height="5.6" fill="#fff" stroke="#222" stroke-width="1.1"/>
<text x="296.5" y="607.2" font-size="7.3" font-weight="bold" textLength="73.5" lengthAdjust="spacingAndGlyphs">LPS 0.5 mg/kg (n = 8)</text>
<line x1="278.0" y1="614.2" x2="295.5" y2="614.2" stroke="#222" stroke-width="1.8" stroke-dasharray="5 2.5"/>
<circle cx="286.5" cy="614.2" r="2.9" fill="#222"/>
<text x="296.5" y="616.9" font-size="7.3" font-weight="bold" textLength="73.5" lengthAdjust="spacingAndGlyphs">LPS 1.0 mg/kg (n = 8)</text>
</g>
<g id="panelE">
<rect x="406.0" y="592.0" width="216.5" height="207.5" fill="#fdfdfd"/>
<text x="399.2" y="586.6" font-size="22.4" font-weight="bold">E</text>
<line x1="466.1" y1="603.3" x2="466.1" y2="766.0" stroke="#6a6a6a" stroke-width="1.2"/>
<text x="462.5" y="768.6" font-size="8.2" text-anchor="end" fill="#303030" style="stroke:#303030;stroke-width:0.45">20.0</text>
<text x="462.5" y="728.1" font-size="8.2" text-anchor="end" fill="#303030" style="stroke:#303030;stroke-width:0.45">25.0</text>
<text x="462.5" y="687.7" font-size="8.2" text-anchor="end" fill="#303030" style="stroke:#303030;stroke-width:0.45">30.0</text>
<text x="462.5" y="647.2" font-size="8.2" text-anchor="end" fill="#303030" style="stroke:#303030;stroke-width:0.45">35.0</text>
<text x="462.5" y="606.8" font-size="8.2" text-anchor="end" fill="#303030" style="stroke:#303030;stroke-width:0.45">40.0</text>
<line x1="463.5" y1="765.6" x2="466.3" y2="765.6" stroke="#6a6a6a" stroke-width="1"/>
<line x1="463.5" y1="725.1" x2="466.3" y2="725.1" stroke="#6a6a6a" stroke-width="1"/>
<line x1="463.5" y1="684.7" x2="466.3" y2="684.7" stroke="#6a6a6a" stroke-width="1"/>
<line x1="463.5" y1="644.2" x2="466.3" y2="644.2" stroke="#6a6a6a" stroke-width="1"/>
<line x1="463.5" y1="603.8" x2="466.3" y2="603.8" stroke="#6a6a6a" stroke-width="1"/>
<line x1="466.0" y1="765.6" x2="621.6" y2="765.6" stroke="#6a6a6a" stroke-width="1.2"/>
<line x1="490.9" y1="765.6" x2="490.9" y2="768.5" stroke="#6a6a6a" stroke-width="1"/>
<line x1="543.1" y1="765.6" x2="543.1" y2="768.5" stroke="#6a6a6a" stroke-width="1"/>
<line x1="595.4" y1="765.6" x2="595.4" y2="768.5" stroke="#6a6a6a" stroke-width="1"/>
<circle cx="491.5" cy="646.0" r="3.1" fill="#d0d0d0" stroke="#6a6a6a" stroke-width="0.8"/>
<circle cx="491.5" cy="655.2" r="3.1" fill="#d0d0d0" stroke="#6a6a6a" stroke-width="0.8"/>
<circle cx="491.5" cy="670.0" r="3.1" fill="#d0d0d0" stroke="#6a6a6a" stroke-width="0.8"/>
<circle cx="482.9" cy="678.9" r="3.1" fill="#d0d0d0" stroke="#6a6a6a" stroke-width="0.8"/>
<circle cx="491.5" cy="685.6" r="3.1" fill="#d0d0d0" stroke="#6a6a6a" stroke-width="0.8"/>
<circle cx="482.9" cy="690.9" r="3.1" fill="#d0d0d0" stroke="#6a6a6a" stroke-width="0.8"/>
<circle cx="500.1" cy="692.4" r="3.1" fill="#d0d0d0" stroke="#6a6a6a" stroke-width="0.8"/>
<circle cx="491.5" cy="696.7" r="3.1" fill="#d0d0d0" stroke="#6a6a6a" stroke-width="0.8"/>
<line x1="490.9" y1="658.0" x2="490.9" y2="695.2" stroke="#222" stroke-width="1.1"/>
<line x1="484.9" y1="658.0" x2="496.9" y2="658.0" stroke="#222" stroke-width="1.1"/>
<line x1="484.9" y1="695.2" x2="496.9" y2="695.2" stroke="#222" stroke-width="1.1"/>
<line x1="466.5" y1="676.6" x2="516.0" y2="676.6" stroke="#222" stroke-width="2.2"/>
<circle cx="534.5" cy="688.1" r="3.1" fill="#d0d0d0" stroke="#6a6a6a" stroke-width="0.8"/>
<circle cx="552.1" cy="685.3" r="3.1" fill="#d0d0d0" stroke="#6a6a6a" stroke-width="0.8"/>
<circle cx="543.1" cy="693.3" r="3.1" fill="#d0d0d0" stroke="#6a6a6a" stroke-width="0.8"/>
<circle cx="534.5" cy="699.2" r="3.1" fill="#d0d0d0" stroke="#6a6a6a" stroke-width="0.8"/>
<circle cx="543.1" cy="705.9" r="3.1" fill="#d0d0d0" stroke="#6a6a6a" stroke-width="0.8"/>
<circle cx="552.1" cy="705.0" r="3.1" fill="#d0d0d0" stroke="#6a6a6a" stroke-width="0.8"/>
<circle cx="543.1" cy="718.5" r="3.1" fill="#d0d0d0" stroke="#6a6a6a" stroke-width="0.8"/>
<circle cx="543.1" cy="736.1" r="3.1" fill="#d0d0d0" stroke="#6a6a6a" stroke-width="0.8"/>
<line x1="543.1" y1="687.1" x2="543.1" y2="721.1" stroke="#222" stroke-width="1.1"/>
<line x1="537.1" y1="687.1" x2="549.1" y2="687.1" stroke="#222" stroke-width="1.1"/>
<line x1="537.1" y1="721.1" x2="549.1" y2="721.1" stroke="#222" stroke-width="1.1"/>
<line x1="516.0" y1="704.1" x2="567.7" y2="704.1" stroke="#222" stroke-width="2.2"/>
<circle cx="595.4" cy="696.1" r="3.1" fill="#d0d0d0" stroke="#6a6a6a" stroke-width="0.8"/>
<circle cx="586.2" cy="708.1" r="3.1" fill="#d0d0d0" stroke="#6a6a6a" stroke-width="0.8"/>
<circle cx="595.4" cy="705.3" r="3.1" fill="#d0d0d0" stroke="#6a6a6a" stroke-width="0.8"/>
<circle cx="595.4" cy="716.1" r="3.1" fill="#d0d0d0" stroke="#6a6a6a" stroke-width="0.8"/>
<circle cx="604.3" cy="712.4" r="3.1" fill="#d0d0d0" stroke="#6a6a6a" stroke-width="0.8"/>
<circle cx="595.4" cy="735.4" r="3.1" fill="#d0d0d0" stroke="#6a6a6a" stroke-width="0.8"/>
<circle cx="604.3" cy="742.2" r="3.1" fill="#d0d0d0" stroke="#6a6a6a" stroke-width="0.8"/>
<circle cx="595.4" cy="747.7" r="3.1" fill="#d0d0d0" stroke="#6a6a6a" stroke-width="0.8"/>
<line x1="595.4" y1="701.7" x2="595.4" y2="739.7" stroke="#222" stroke-width="1.1"/>
<line x1="589.4" y1="701.7" x2="601.4" y2="701.7" stroke="#222" stroke-width="1.1"/>
<line x1="589.4" y1="739.7" x2="601.4" y2="739.7" stroke="#222" stroke-width="1.1"/>
<line x1="569.0" y1="720.3" x2="620.0" y2="720.3" stroke="#222" stroke-width="2.2"/>
<path d="M491 617 L491 608.7 L595.4 608.7 L595.4 680.7" fill="none" stroke="#4a4a4a" stroke-width="1.3"/>
<path d="M491 633.7 L491 626.3 L543.1 626.3 L543.1 670.6" fill="none" stroke="#333" stroke-width="1.1"/>
<text x="549.5" y="606.3" font-size="7.4" text-anchor="middle" textLength="36.8" lengthAdjust="spacingAndGlyphs" style="stroke:#303030;stroke-width:0.45"><tspan font-style="italic">P</tspan> = 0.00020</text>
<text x="522.2" y="623.5" font-size="7.4" text-anchor="middle" textLength="29" lengthAdjust="spacingAndGlyphs" style="stroke:#303030;stroke-width:0.45"><tspan font-style="italic">P</tspan> = 0.014</text>
<text x="436.2" y="683.8" font-size="7.6" text-anchor="middle" textLength="149.5" lengthAdjust="spacingAndGlyphs" transform="rotate(-90 436.2 683.8)" style="stroke:#303030;stroke-width:0.22">Concentration of Ethanolamine in CSF &#160;(μM)</text>
<text x="490.9" y="778.0" font-size="7.7" text-anchor="middle" font-weight="bold" fill="#303030">Saline</text>
<text x="490.9" y="787.1" font-size="7.7" text-anchor="middle" font-weight="bold" fill="#303030">(n = 8)</text>
<text x="543.1" y="778.0" font-size="7.7" text-anchor="middle" font-weight="bold" fill="#303030">LPS</text>
<text x="543.1" y="787.1" font-size="7.7" text-anchor="middle" font-weight="bold" fill="#303030">0.5 mg/kg</text>
<text x="543.1" y="796.2" font-size="7.7" text-anchor="middle" font-weight="bold" fill="#303030">(n = 8)</text>
<text x="595.4" y="778.0" font-size="7.7" text-anchor="middle" font-weight="bold" fill="#303030">LPS</text>
<text x="595.4" y="787.1" font-size="7.7" text-anchor="middle" font-weight="bold" fill="#303030">1.0 mg/kg</text>
<text x="595.4" y="796.2" font-size="7.7" text-anchor="middle" font-weight="bold" fill="#303030">(n = 8)</text>
</g>
<g id="panelF">
<text x="0.4" y="836.0" font-size="22.4" font-weight="bold">F</text>
<line x1="56.8" y1="871.4" x2="56.8" y2="1026.5" stroke="#2a2a2a" stroke-width="1.3"/>
<text x="50.2" y="1028.9" font-size="8.2" text-anchor="end" font-weight="bold">0</text>
<text x="50.2" y="1003.2" font-size="8.2" text-anchor="end" font-weight="bold">50</text>
<text x="50.2" y="977.5" font-size="8.2" text-anchor="end" font-weight="bold">100</text>
<text x="50.2" y="951.9" font-size="8.2" text-anchor="end" font-weight="bold">150</text>
<text x="50.2" y="926.2" font-size="8.2" text-anchor="end" font-weight="bold">200</text>
<text x="50.2" y="900.5" font-size="8.2" text-anchor="end" font-weight="bold">250</text>
<text x="50.2" y="874.9" font-size="8.2" text-anchor="end" font-weight="bold">300</text>
<line x1="222.3" y1="871.4" x2="222.3" y2="1026.5" stroke="#2a2a2a" stroke-width="1.3"/>
<text x="229.1" y="1028.9" font-size="8.2" font-weight="bold">0</text>
<line x1="222.3" y1="1025.9" x2="225.0" y2="1025.9" stroke="#2a2a2a" stroke-width="1"/>
<text x="229.1" y="1003.2" font-size="8.2" font-weight="bold">50</text>
<line x1="222.3" y1="1000.2" x2="225.0" y2="1000.2" stroke="#2a2a2a" stroke-width="1"/>
<text x="229.1" y="977.5" font-size="8.2" font-weight="bold">100</text>
<line x1="222.3" y1="974.6" x2="225.0" y2="974.6" stroke="#2a2a2a" stroke-width="1"/>
<text x="229.1" y="951.9" font-size="8.2" font-weight="bold">150</text>
<line x1="222.3" y1="948.9" x2="225.0" y2="948.9" stroke="#2a2a2a" stroke-width="1"/>
<text x="229.1" y="926.2" font-size="8.2" font-weight="bold">200</text>
<line x1="222.3" y1="923.2" x2="225.0" y2="923.2" stroke="#2a2a2a" stroke-width="1"/>
<text x="229.1" y="900.5" font-size="8.2" font-weight="bold">250</text>
<line x1="222.3" y1="897.6" x2="225.0" y2="897.6" stroke="#2a2a2a" stroke-width="1"/>
<text x="229.1" y="874.9" font-size="8.2" font-weight="bold">300</text>
<line x1="222.3" y1="871.9" x2="225.0" y2="871.9" stroke="#2a2a2a" stroke-width="1"/>
<line x1="56.2" y1="1025.9" x2="222.9" y2="1025.9" stroke="#2a2a2a" stroke-width="1.3"/>
<text x="24.0" y="942.5" font-size="7.7" text-anchor="middle" textLength="154.6" lengthAdjust="spacingAndGlyphs" transform="rotate(-90 24.0 942.5)" style="stroke:#303030;stroke-width:0.22">Body Weight Changes During the Experiment</text>
<text x="32.6" y="942.1" font-size="7.7" text-anchor="middle" transform="rotate(-90 32.6 942.1)" style="stroke:#303030;stroke-width:0.22">(g)</text>
<text x="257.0" y="946.0" font-size="7.6" text-anchor="middle" textLength="142.5" lengthAdjust="spacingAndGlyphs" transform="rotate(-90 257.0 946.0)" style="stroke:#303030;stroke-width:0.22">Average EA Consumption via Water Bottle</text>
<text x="265.0" y="945.2" font-size="7.6" text-anchor="middle" textLength="39" lengthAdjust="spacingAndGlyphs" transform="rotate(-90 265.0 945.2)" style="stroke:#303030;stroke-width:0.22">(μL/kg/day)</text>
<text x="73.8" y="1039.6" font-size="8.2" text-anchor="middle" font-weight="bold">Base-</text>
<text x="73.8" y="1048.8" font-size="8.2" text-anchor="middle" font-weight="bold">line</text>
<text x="106.3" y="1039.6" font-size="8.2" text-anchor="middle" font-weight="bold">1 wk</text>
<text x="139.1" y="1039.6" font-size="8.2" text-anchor="middle" font-weight="bold">2 wk</text>
<text x="172.0" y="1039.6" font-size="8.2" text-anchor="middle" font-weight="bold">3 wk</text>
<text x="204.8" y="1039.6" font-size="8.2" text-anchor="middle" font-weight="bold">4 wk</text>
<text x="137.9" y="1065.7" font-size="8.3" text-anchor="middle" font-weight="bold" textLength="143.8" lengthAdjust="spacingAndGlyphs">Period of Water bottle Administration</text>
<polyline points="106.3,951.0 139.1,959.5 172.0,966.8 204.8,970.9" fill="none" stroke="#bdbdbd" stroke-width="1.8"/>
<rect x="102.7" y="947.4" width="7.2" height="7.2" fill="#bdbdbd"/>
<rect x="135.5" y="955.9" width="7.2" height="7.2" fill="#bdbdbd"/>
<rect x="168.4" y="963.2" width="7.2" height="7.2" fill="#bdbdbd"/>
<rect x="201.2" y="967.3" width="7.2" height="7.2" fill="#bdbdbd"/>
<polyline points="73.5,962.0 106.3,942.2 139.1,922.4 172.0,909.4 204.8,897.6" fill="none" stroke="#222" stroke-width="1.8" stroke-dasharray="4.5 2"/>
<polyline points="73.5,962.0 106.3,941.2 139.1,920.7 172.0,908.0 204.8,894.5" fill="none" stroke="#222" stroke-width="2"/>
<path d="M70.5 959.0 L76.5 965.0 M70.5 965.0 L76.5 959.0 M73.5 959.0 L73.5 965.0" stroke="#333" stroke-width="0.9"/>
<path d="M103.3 938.2 L109.3 944.2 M103.3 944.2 L109.3 938.2 M106.3 938.2 L106.3 944.2" stroke="#333" stroke-width="0.9"/>
<path d="M136.1 917.7 L142.1 923.7 M136.1 923.7 L142.1 917.7 M139.1 917.7 L139.1 923.7" stroke="#333" stroke-width="0.9"/>
<path d="M169.0 905.0 L175.0 911.0 M169.0 911.0 L175.0 905.0 M172.0 905.0 L172.0 911.0" stroke="#333" stroke-width="0.9"/>
<path d="M201.8 891.5 L207.8 897.5 M201.8 897.5 L207.8 891.5 M204.8 891.5 L204.8 897.5" stroke="#333" stroke-width="0.9"/>
<circle cx="73.5" cy="962.0" r="3" fill="#222"/>
<circle cx="106.3" cy="942.2" r="3" fill="#222"/>
<circle cx="139.1" cy="922.4" r="3" fill="#222"/>
<circle cx="172.0" cy="909.4" r="3" fill="#222"/>
<circle cx="204.8" cy="897.6" r="3" fill="#222"/>
<line x1="66.4" y1="992.8" x2="83.8" y2="992.8" stroke="#333" stroke-width="1.8"/>
<path d="M72.7 990.4 L77.5 995.2 M72.7 995.2 L77.5 990.4 M75.1 990.4 L75.1 995.2" stroke="#333" stroke-width="0.9"/>
<text x="85.9" y="995.6" font-size="7.6" font-weight="bold" textLength="105" lengthAdjust="spacingAndGlyphs">BW of the Water group (n = 8)</text>
<line x1="66.4" y1="1002.9" x2="83.8" y2="1002.9" stroke="#333" stroke-width="1.8" stroke-dasharray="3.5 2"/>
<circle cx="75.1" cy="1002.9" r="2.5" fill="#222"/>
<text x="85.9" y="1005.6" font-size="7.6" font-weight="bold" textLength="94.1" lengthAdjust="spacingAndGlyphs">BW of the EA group (n = 8)</text>
<line x1="66.4" y1="1012.8" x2="83.8" y2="1012.8" stroke="#bdbdbd" stroke-width="1.6"/>
<rect x="71.6" y="1009.3" width="7.0" height="7.0" fill="#bdbdbd"/>
<text x="85.9" y="1015.5" font-size="7.6" font-weight="bold" textLength="128.2" lengthAdjust="spacingAndGlyphs">Consumption of EA in the EA Group</text>
</g>
<g id="panelG">
<text x="274.8" y="836.3" font-size="22.4" font-weight="bold">G</text>
<line x1="343.0" y1="866.6" x2="343.0" y2="1032.0" stroke="#2a2a2a" stroke-width="1.3"/>
<text x="335.0" y="1034.4" font-size="8.4" text-anchor="end" font-weight="bold">0</text>
<text x="335.0" y="1007.0" font-size="8.4" text-anchor="end" font-weight="bold">20</text>
<text x="335.0" y="979.6" font-size="8.4" text-anchor="end" font-weight="bold">40</text>
<text x="335.0" y="952.1" font-size="8.4" text-anchor="end" font-weight="bold">60</text>
<text x="335.0" y="924.7" font-size="8.4" text-anchor="end" font-weight="bold">80</text>
<text x="335.0" y="897.3" font-size="8.4" text-anchor="end" font-weight="bold">100</text>
<text x="335.0" y="869.8" font-size="8.4" text-anchor="end" font-weight="bold">120</text>
<line x1="342.4" y1="1031.4" x2="512.5" y2="1031.4" stroke="#2a2a2a" stroke-width="1.5"/>
<line x1="427.5" y1="1031.4" x2="427.5" y2="1034.4" stroke="#2a2a2a" stroke-width="1"/>
<line x1="512.5" y1="1031.4" x2="512.5" y2="1034.2" stroke="#2a2a2a" stroke-width="1.2"/>
<line x1="385.1" y1="901.1" x2="385.1" y2="923.0" stroke="#c4c4c4" stroke-width="1.2"/>
<line x1="383.2" y1="901.1" x2="387.0" y2="901.1" stroke="#c4c4c4" stroke-width="1.2"/>
<rect x="368.2" y="923.0" width="33.8" height="108.4" fill="#262626"/>
<line x1="470.0" y1="947.7" x2="470.0" y2="976.5" stroke="#c4c4c4" stroke-width="1.2"/>
<line x1="468.1" y1="947.7" x2="471.9" y2="947.7" stroke="#c4c4c4" stroke-width="1.2"/>
<rect x="453.1" y="976.5" width="33.8" height="54.9" fill="#262626"/>
<path d="M385.1 887.8 L385.1 877.7 L470.1 877.7 L470.1 934.5" fill="none" stroke="#2a2a2a" stroke-width="2.3"/>
<text x="429.2" y="872.9" font-size="11.4" text-anchor="middle" font-weight="bold" textLength="49" lengthAdjust="spacingAndGlyphs"><tspan font-style="italic">P</tspan> = 0.016</text>
<text x="306.7" y="945.0" font-size="8" text-anchor="middle" font-weight="bold" textLength="161" lengthAdjust="spacingAndGlyphs" transform="rotate(-90 306.7 945.0)">Immobility Time in Forced Swim Test &#160;(sec)</text>
<text x="385.3" y="1044.9" font-size="9" text-anchor="middle" font-weight="bold">Water</text>
<text x="385.3" y="1055.1" font-size="9" text-anchor="middle" font-weight="bold">(n = 8)</text>
<text x="470.3" y="1044.9" font-size="9" text-anchor="middle" font-weight="bold">EA</text>
<text x="470.3" y="1055.1" font-size="9" text-anchor="middle" font-weight="bold">1 μL/mL</text>
<text x="470.3" y="1065.3" font-size="9" text-anchor="middle" font-weight="bold">(n = 8)</text>
</g>
<g id="panelH">
<text x="513.4" y="836.5" font-size="22.4" font-weight="bold">H</text>
<line x1="573.6" y1="870.8" x2="573.6" y2="1033.6" stroke="#6a6a6a" stroke-width="1.2"/>
<text x="570.4" y="1035.9" font-size="7.9" text-anchor="end" fill="#303030" style="stroke:#303030;stroke-width:0.45">25.0</text>
<text x="570.4" y="1003.6" font-size="7.9" text-anchor="end" fill="#303030" style="stroke:#303030;stroke-width:0.45">30.0</text>
<text x="570.4" y="971.2" font-size="7.9" text-anchor="end" fill="#303030" style="stroke:#303030;stroke-width:0.45">35.0</text>
<text x="570.4" y="938.9" font-size="7.9" text-anchor="end" fill="#303030" style="stroke:#303030;stroke-width:0.45">40.0</text>
<text x="570.4" y="906.5" font-size="7.9" text-anchor="end" fill="#303030" style="stroke:#303030;stroke-width:0.45">45.0</text>
<text x="570.4" y="874.1" font-size="7.9" text-anchor="end" fill="#303030" style="stroke:#303030;stroke-width:0.45">50.0</text>
<line x1="570.8" y1="1033.1" x2="573.6" y2="1033.1" stroke="#6a6a6a" stroke-width="1"/>
<line x1="570.8" y1="1000.7" x2="573.6" y2="1000.7" stroke="#6a6a6a" stroke-width="1"/>
<line x1="570.8" y1="968.4" x2="573.6" y2="968.4" stroke="#6a6a6a" stroke-width="1"/>
<line x1="570.8" y1="936.0" x2="573.6" y2="936.0" stroke="#6a6a6a" stroke-width="1"/>
<line x1="570.8" y1="903.7" x2="573.6" y2="903.7" stroke="#6a6a6a" stroke-width="1"/>
<line x1="570.8" y1="871.3" x2="573.6" y2="871.3" stroke="#6a6a6a" stroke-width="1"/>
<line x1="573.2" y1="1033.1" x2="729.8" y2="1033.1" stroke="#6a6a6a" stroke-width="1.2"/>
<line x1="613.4" y1="1033.1" x2="613.4" y2="1036.0" stroke="#6a6a6a" stroke-width="1"/>
<line x1="691.3" y1="1033.1" x2="691.3" y2="1036.0" stroke="#6a6a6a" stroke-width="1"/>
<circle cx="613.4" cy="971.8" r="3" fill="#d0d0d0" stroke="#6a6a6a" stroke-width="0.8"/>
<circle cx="604.4" cy="979.8" r="3" fill="#d0d0d0" stroke="#6a6a6a" stroke-width="0.8"/>
<circle cx="622.3" cy="977.4" r="3" fill="#d0d0d0" stroke="#6a6a6a" stroke-width="0.8"/>
<circle cx="613.4" cy="984.1" r="3" fill="#d0d0d0" stroke="#6a6a6a" stroke-width="0.8"/>
<circle cx="631.0" cy="986.4" r="3" fill="#d0d0d0" stroke="#6a6a6a" stroke-width="0.8"/>
<circle cx="604.4" cy="989.0" r="3" fill="#d0d0d0" stroke="#6a6a6a" stroke-width="0.8"/>
<circle cx="622.3" cy="990.7" r="3" fill="#d0d0d0" stroke="#6a6a6a" stroke-width="0.8"/>
<circle cx="613.4" cy="994.3" r="3" fill="#d0d0d0" stroke="#6a6a6a" stroke-width="0.8"/>
<line x1="613.4" y1="976.8" x2="613.4" y2="991.7" stroke="#222" stroke-width="1.1"/>
<line x1="607.9" y1="976.8" x2="618.9" y2="976.8" stroke="#222" stroke-width="1.1"/>
<line x1="607.9" y1="991.7" x2="618.9" y2="991.7" stroke="#222" stroke-width="1.1"/>
<line x1="577.0" y1="983.9" x2="649.2" y2="983.9" stroke="#222" stroke-width="2.2"/>
<circle cx="691.3" cy="913.8" r="3" fill="#d0d0d0" stroke="#6a6a6a" stroke-width="0.8"/>
<circle cx="691.3" cy="923.7" r="3" fill="#d0d0d0" stroke="#6a6a6a" stroke-width="0.8"/>
<circle cx="700.3" cy="921.7" r="3" fill="#d0d0d0" stroke="#6a6a6a" stroke-width="0.8"/>
<circle cx="682.4" cy="935.0" r="3" fill="#d0d0d0" stroke="#6a6a6a" stroke-width="0.8"/>
<circle cx="691.3" cy="935.0" r="3" fill="#d0d0d0" stroke="#6a6a6a" stroke-width="0.8"/>
<circle cx="682.4" cy="942.0" r="3" fill="#d0d0d0" stroke="#6a6a6a" stroke-width="0.8"/>
<circle cx="691.3" cy="944.3" r="3" fill="#d0d0d0" stroke="#6a6a6a" stroke-width="0.8"/>
<circle cx="700.3" cy="943.3" r="3" fill="#d0d0d0" stroke="#6a6a6a" stroke-width="0.8"/>
<line x1="691.3" y1="921.1" x2="691.3" y2="943.1" stroke="#222" stroke-width="1.1"/>
<line x1="685.8" y1="921.1" x2="696.8" y2="921.1" stroke="#222" stroke-width="1.1"/>
<line x1="685.8" y1="943.1" x2="696.8" y2="943.1" stroke="#222" stroke-width="1.1"/>
<line x1="655.2" y1="932.1" x2="727.8" y2="932.1" stroke="#222" stroke-width="2.2"/>
<path d="M613.4 948.6 L613.4 885.3 L691.3 885.3 L691.3 894.4" fill="none" stroke="#4a4a4a" stroke-width="1.2"/>
<text x="653.5" y="879.8" font-size="8.4" text-anchor="middle" textLength="39" lengthAdjust="spacingAndGlyphs" style="stroke:#303030;stroke-width:0.45"><tspan font-style="italic">P</tspan> = 3.1E−8</text>
<text x="545.3" y="950.1" font-size="7.7" text-anchor="middle" textLength="150.8" lengthAdjust="spacingAndGlyphs" transform="rotate(-90 545.3 950.1)" style="stroke:#303030;stroke-width:0.22">Concentration of Ethanolamine in CSF &#160;(μM)</text>
<text x="613.4" y="1046.5" font-size="7.8" text-anchor="middle" font-weight="bold" fill="#303030">Water</text>
<text x="613.4" y="1056.4" font-size="7.8" text-anchor="middle" font-weight="bold" fill="#303030">(n = 8)</text>
<text x="691.3" y="1043.2" font-size="7.8" text-anchor="middle" font-weight="bold" fill="#303030">EA</text>
<text x="691.3" y="1053.1" font-size="7.8" text-anchor="middle" font-weight="bold" fill="#303030">1 μL/mL</text>
<text x="691.3" y="1063.0" font-size="7.8" text-anchor="middle" font-weight="bold" fill="#303030">(n = 8)</text>
</g>
</svg>
</body></html>
